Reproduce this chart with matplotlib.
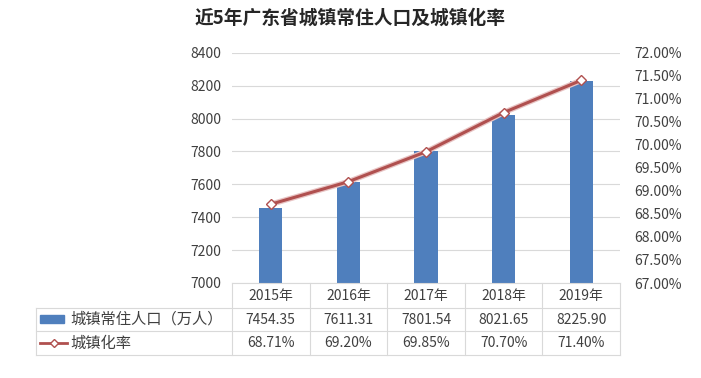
import matplotlib.pyplot as plt
from matplotlib.lines import Line2D
from matplotlib.patches import Rectangle
from matplotlib.ticker import FuncFormatter

plt.rcParams['font.family'] = ['Noto Sans CJK SC', 'DejaVu Sans']

# 数据
years = ['2015年', '2016年', '2017年', '2018年', '2019年']
population = [7454.35, 7611.31, 7801.54, 8021.65, 8225.90]
rate = [68.71, 69.20, 69.85, 70.70, 71.40]
pop_label = '城镇常住人口（万人）'
rate_label = '城镇化率'
title = '近5年广东省城镇常住人口及城镇化率'

bar_color = '#4f7fbd'
line_color = '#b0504f'
grid_color = '#d9d9d9'
text_color = '#404040'

fig = plt.figure(figsize=(7.01, 3.78), dpi=100)
ax = fig.add_axes([232 / 701, 1 - 283 / 378, 388 / 701, (283 - 52.7) / 378])

x = list(range(len(years)))
ax.bar(x, population, width=0.3, color=bar_color, zorder=2)
ax.set_ylim(7000, 8400)
ax.set_yticks(range(7000, 8401, 200))
ax.set_xlim(-0.5, len(years) - 0.5)
ax.set_xticks([])
ax.grid(axis='y', color=grid_color, linewidth=0.8, zorder=0)
for s in ['top', 'right', 'left']:
    ax.spines[s].set_visible(False)
ax.spines['bottom'].set_color(grid_color)
ax.tick_params(axis='y', length=0, pad=8, labelsize=10, labelcolor=text_color)

ax2 = ax.twinx()
ax2.plot(x, rate, color='#e8c4c4', linewidth=4, zorder=3)
ax2.plot(x, rate, color=line_color, linewidth=2.2, marker='D', markersize=5,
         markerfacecolor='white', markeredgecolor=line_color, markeredgewidth=1, zorder=4)
ax2.set_ylim(67, 72)
ax2.set_yticks([67 + 0.5 * i for i in range(11)])
ax2.yaxis.set_major_formatter(FuncFormatter(lambda v, p: '%.2f%%' % v))
for s in ['top', 'right', 'left', 'bottom']:
    ax2.spines[s].set_visible(False)
ax2.tick_params(axis='y', length=0, pad=10, labelsize=10, labelcolor=text_color)

fig.text(0.5, 1 - 18 / 378, title, ha='center', va='center', fontsize=13.5,
         fontweight='bold', color='#262626')

# 数据表
ah = 283 - 52.7
def yf(px):
    return (283 - px) / ah

tx = ax.get_xaxis_transform()
row_lines = [283, 308, 331, 355]
left = (36 - 232) / 388
for i in range(len(years) + 1):
    ax.add_line(Line2D([i - 0.5, i - 0.5], [0, yf(355)], transform=tx, color=grid_color,
                       linewidth=0.8, clip_on=False))
for py in row_lines[1:]:
    ax.add_line(Line2D([left, 1], [yf(py), yf(py)], transform=ax.transAxes, color=grid_color,
                       linewidth=0.8, clip_on=False))
ax.add_line(Line2D([left, left], [yf(308), yf(355)], transform=ax.transAxes, color=grid_color,
                   linewidth=0.8, clip_on=False))

for i, yr in enumerate(years):
    ax.text(i, yf(296), yr, transform=tx, ha='center', va='center', fontsize=10,
            color=text_color, clip_on=False)
    ax.text(i, yf(319.5), '%.2f' % population[i], transform=tx, ha='center', va='center',
            fontsize=10, color=text_color, clip_on=False)
    ax.text(i, yf(343), '%.2f%%' % rate[i], transform=tx, ha='center', va='center',
            fontsize=10, color=text_color, clip_on=False)

# 图例符号
ax.add_patch(Rectangle(((40 - 232) / 388, yf(323)), 24 / 388, 8 / ah, transform=ax.transAxes,
                       color=bar_color, clip_on=False))
ax.add_line(Line2D([(40 - 232) / 388, (67 - 232) / 388], [yf(343), yf(343)],
                   transform=ax.transAxes, color=line_color, linewidth=2, clip_on=False))
ax.add_line(Line2D([(53.5 - 232) / 388], [yf(343)], transform=ax.transAxes, marker='D',
                   markersize=4.5, markerfacecolor='white', markeredgecolor=line_color,
                   clip_on=False))
ax.text((70 - 232) / 388, yf(319.5), pop_label, transform=ax.transAxes, ha='left',
        va='center', fontsize=11, color=text_color, clip_on=False)
ax.text((70 - 232) / 388, yf(343), rate_label, transform=ax.transAxes, ha='left',
        va='center', fontsize=11, color=text_color, clip_on=False)

fig.savefig('out.png', dpi=100, facecolor='white')
